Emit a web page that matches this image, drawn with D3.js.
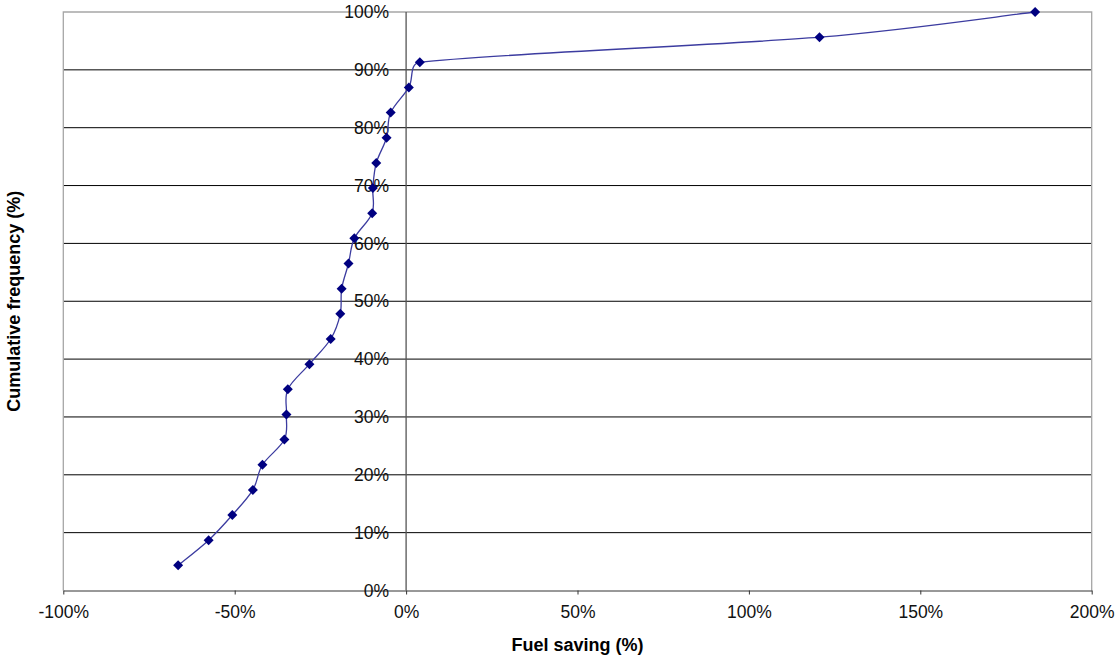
<!DOCTYPE html>
<html><head><meta charset="utf-8">
<script src="https://cdn.jsdelivr.net/npm/d3@7"></script>
<style>body{margin:0;background:#fff}svg{display:block}text{font-family:"Liberation Sans",Arial,sans-serif}</style>
</head><body><svg id="c" width="1117" height="659"></svg>
<script>
// Fuel saving (%) per observation, sorted
const fuelSaving = [-66.5,-57.6,-50.7,-44.7,-41.9,-35.5,-34.9,-34.5,-28.2,-22.0,-19.2,-18.8,-16.8,-15.1,-9.9,-9.7,-8.7,-5.7,-4.5,0.8,4.0,120.6,183.5];
// Cumulative frequency (%)
const cumFreq = [4.35,8.70,13.04,17.39,21.74,26.09,30.43,34.78,39.13,43.48,47.83,52.17,56.52,60.87,65.22,69.57,73.91,78.26,82.61,86.96,91.30,95.65,100];
const xTicks = [-100,-50,0,50,100,150,200];
const yTicks = [0,10,20,30,40,50,60,70,80,90,100];

// Spreadsheet-style smoothing: Catmull-Rom Bezier arms clamped to a fraction of the segment length
function smoothCurve(context){
  let pts=[];
  return {
    areaStart(){}, areaEnd(){},
    lineStart(){pts=[];},
    point(x,y){pts.push([+x,+y]);},
    lineEnd(){
      const n=pts.length; if(!n) return;
      context.moveTo(pts[0][0],pts[0][1]);
      const arm=(i,dir)=>{ // dir +1 forward arm, -1 backward arm
        const p0=pts[Math.max(i-1,0)], p2=pts[Math.min(i+1,n-1)];
        let tx=(p2[0]-p0[0])/6, ty=(p2[1]-p0[1])/6;
        const q=pts[i+dir];
        const seg=Math.hypot(q[0]-pts[i][0],q[1]-pts[i][1]);
        const len=Math.hypot(tx,ty), mx=seg*0.4;
        if(len>mx&&len>0){tx*=mx/len;ty*=mx/len;}
        return [pts[i][0]+dir*tx, pts[i][1]+dir*ty];
      };
      for(let i=0;i<n-1;i++){
        const c1=arm(i,1), c2=arm(i+1,-1);
        context.bezierCurveTo(c1[0],c1[1],c2[0],c2[1],pts[i+1][0],pts[i+1][1]);
      }
    }
  };
}

const svg = d3.select("#c");
const L=63.3, R=1091.7, T=12, B=590.5;
const x = d3.scaleLinear().domain([-100,200]).range([L,R]);
const y = d3.scaleLinear().domain([0,100]).range([B,T]);

// gridlines
svg.append("g").selectAll("line").data(yTicks.filter(d=>d>0&&d<100)).join("line")
  .attr("x1",L).attr("x2",R).attr("y1",d=>y(d)).attr("y2",d=>y(d))
  .attr("stroke","#000").attr("stroke-width",1);
// plot border (left, top, right)
svg.append("path").attr("d",`M${L},${B}V${T}H${R}V${B}`).attr("fill","none").attr("stroke","#a6a6a6").attr("stroke-width",1.3);

// x axis
const xa = svg.append("g").attr("transform",`translate(0,${B})`)
  .call(d3.axisBottom(x).tickValues(xTicks).tickFormat(d=>d+"%").tickSizeOuter(0).tickSizeInner(4).tickPadding(11));
xa.select(".domain").attr("stroke","#333");
xa.selectAll(".tick line").attr("stroke","#333");
xa.selectAll("text").attr("font-size","17.5px").attr("fill","#111");

// y axis at x=0
svg.append("line").attr("x1",x(0)).attr("x2",x(0)).attr("y1",T).attr("y2",B).attr("stroke","#555").attr("stroke-width",1.3);
svg.append("g").selectAll("text").data(yTicks).join("text")
  .attr("x",x(0)-17).attr("y",d=>y(d)).attr("dy","0.35em").attr("text-anchor","end")
  .attr("font-size","17.5px").attr("fill","#111").text(d=>d+"%");

// line
const pts = fuelSaving.map((v,i)=>[v,cumFreq[i]]);
svg.append("path").datum(pts)
  .attr("d", d3.line().x(d=>x(d[0])).y(d=>y(d[1])).curve(smoothCurve))
  .attr("fill","none").attr("stroke","#3c3ca0").attr("stroke-width",1.3);
// markers (square diamonds)
svg.append("g").selectAll("path").data(pts).join("path")
  .attr("d", d3.symbol(d3.symbolSquare, 50)())
  .attr("transform", d=>`translate(${x(d[0])},${y(d[1])}) rotate(45)`)
  .attr("fill","#000080");

// titles
svg.append("text").attr("x",(L+R)/2).attr("y",651).attr("text-anchor","middle")
  .attr("font-size","18px").attr("font-weight","bold").attr("fill","#000").text("Fuel saving (%)");
svg.append("text").attr("transform",`translate(20,${(T+B)/2}) rotate(-90)`).attr("text-anchor","middle")
  .attr("font-size","18px").attr("font-weight","bold").attr("fill","#000").text("Cumulative frequency (%)");
</script></body></html>
